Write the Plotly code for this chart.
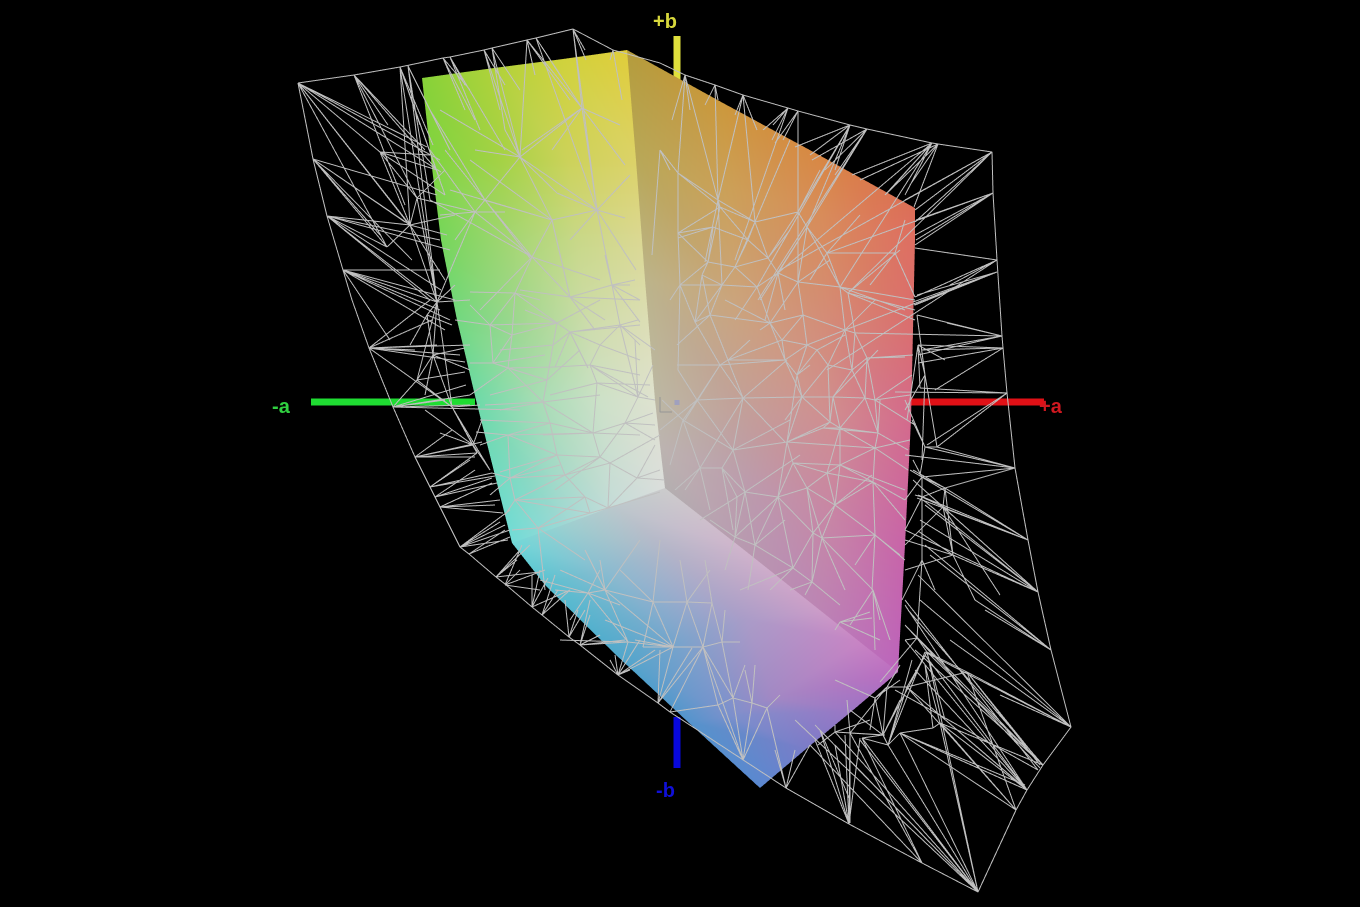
import numpy as np
import plotly.graph_objects as go

LEFT_X = [[422,494,563,627],[431,500,568,636],[441,508,576,645],[457,520,588,655],[476,535,600,660],[512,563,614,665]]
LEFT_Y = [[78,68,59,50],[160,160,160,160],[240,240,240,240],[320,320,320,320],[400,400,400,400],[543,525,506,488]]
LEFT_C = [["#86d238","#b0d23a","#d0d23c","#e0cd3a"],["#80d440","#a4d245","#ccd25a","#dcd268"],["#76d65c","#a2d672","#c8d888","#dcd894"],["#72d880","#a0d790","#cddcaa","#dedeb6"],["#6edaa8","#a5dcb4","#cde1c8","#e0e2d0"],["#72dcd8","#9ed8d4","#c6dcd8","#dcdedc"]]

RIGHT_X = [[627,723,819,915],[636,730,822,915],[645,735,826,913],[655,740,830,911],[660,746,830,905],[665,743,820,898]]
RIGHT_Y = [[50,103,155,208],[160,190,215,240],[280,300,315,330],[400,410,415,420],[445,480,510,545],[488,549,611,672]]
RIGHT_C = [["#b49c3c","#cc983c","#d88844","#dc6e58"],["#b8a858","#cca058","#d88c5a","#de6e62"],["#bcb48a","#cba47c","#d48c76","#da6e70"],["#bcb8a4","#c2a09a","#d08e90","#d46a8c"],["#bcb4b0","#bc9cac","#c886a4","#c864a8"],["#b4b0b0","#b89ab0","#bc84b4","#bc64bc"]]

BOTTOM_X = [[512,563,614,665],[545,606,672,743],[616,681,746,821],[688,731,773,860],[760,806,852,898]]
BOTTOM_Y = [[543,525,506,488],[585,570,553,549],[655,640,620,611],[722,716,698,642],[788,749,711,672]]
BOTTOM_C = [["#70d8d8","#9cd0d0","#bcc8cc","#cccccc"],["#58c0d0","#8cbcd0","#b4b4c8","#d0b4cc"],["#50a8cc","#7ca4cc","#aa9cc8","#cc9cc8"],["#5494cc","#7c90cc","#a288c4","#c884c4"],["#5a88d0","#7a7cc8","#9c76c4","#bc6cc0"]]

HULL_X = [298,354,400,443,450,484,492,527,536,573,613,660,685,715,743,788,798,850,867,932,938,992,993,997,1002,1003,1007,1015,1028,1038,1051,1071,1043,1027,1016,978,922,849,786,670,658,618,580,569,542,532,505,496,469,460,440,435,430,415,393,369,352,343,327,313,298]
HULL_Y = [83,75,67,58,57,50,48,40,38,29,50,63,75,85,95,108,111,125,129,143,144,152,193,260,336,348,393,468,540,592,650,727,765,790,810,892,863,824,788,712,703,675,645,637,615,607,584,577,554,547,507,497,487,457,407,348,300,270,216,159,83]

WIRE_FANS = [
 ((298,83),[(427,147),(440,160),(407,222),(410,225),(387,247),(441,172),(380,152)]),
 ((354,75),[(388,125),(425,150),(437,170),(405,205),(417,198)]),
 ((400,67),[(410,225),(437,302),(440,180),(445,195),(420,125),(433,145)]),
 ((408,66),[(437,302),(450,150),(430,200)]),
 ((443,58),[(475,120),(470,90),(465,110)]),
 ((450,57),[(505,150),(465,85),(480,130)]),
 ((484,50),[(520,157),(505,85),(500,110)]),
 ((492,48),[(520,157),(505,130),(520,90)]),
 ((527,40),[(520,157),(582,108),(570,100),(535,75)]),
 ((536,38),[(582,108),(597,210),(560,75)]),
 ((573,29),[(597,210),(582,108),(586,60),(585,50)]),
 ((613,50),[(622,100),(610,60)]),
 ((313,159),[(410,225),(405,222),(387,247),(380,235),(437,195),(412,260)]),
 ((327,216),[(437,302),(410,225),(387,247),(441,290),(450,250),(440,240),(430,300)]),
 ((343,270),[(437,302),(440,310),(440,270),(445,330),(450,320),(455,300),(390,340)]),
 ((369,348),[(430,300),(437,345),(465,362),(470,345),(432,320),(415,350),(460,355),(452,407)]),
 ((393,407),[(466,385),(445,400),(520,410),(470,395),(470,405)]),
 ((380,152),[(430,155),(437,170),(417,198),(410,225),(445,195)]),
 ((417,198),[(410,225),(437,302),(445,170),(475,212)]),
 ((410,225),[(387,247),(437,302),(455,215),(445,280),(447,235)]),
 ((437,302),[(427,315),(433,355),(417,380),(452,407),(470,300),(455,285)]),
 ((427,315),[(433,355),(410,345),(452,325)]),
 ((433,355),[(417,380),(470,370),(425,395),(452,407),(465,348)]),
 ((417,380),[(393,407),(465,372),(452,407)]),
 ((452,407),[(473,445),(477,453),(490,470),(480,405)]),
 ((415,457),[(473,445),(477,453),(482,442),(475,457),(452,430)]),
 ((473,445),[(425,410),(440,433),(490,470),(482,420)]),
 ((430,487),[(492,473),(495,476),(470,460),(477,453)]),
 ((435,497),[(492,478),(497,483),(475,470)]),
 ((440,507),[(500,500),(503,513),(495,505),(492,483)]),
 ((460,547),[(505,525),(510,530),(510,510),(508,540),(500,522)]),
 ((469,554),[(510,537),(505,530)]),
 ((496,577),[(520,550),(517,560),(530,545),(540,572)]),
 ((505,585),[(520,570),(545,570),(540,590),(522,545)]),
 ((532,607),[(548,578),(570,590),(540,570),(532,575)]),
 ((542,615),[(570,590),(558,590),(555,575)]),
 ((569,637),[(578,610),(585,610),(565,600)]),
 ((580,645),[(590,615),(625,640),(600,635),(590,600)]),
 ((618,675),[(615,655),(630,670),(610,660),(655,650),(673,647),(640,640)]),
 ((658,703),[(660,650),(692,648),(703,647),(673,647)]),
 ((670,712),[(718,705),(703,647)]),
 ((520,157),[(582,108),(485,200),(557,193),(597,210),(505,130),(475,150),(440,110)]),
 ((582,108),[(620,125),(625,165),(597,210),(552,150),(522,150)]),
 ((597,210),[(552,220),(625,218),(636,270),(612,285),(570,240),(630,175),(557,193)]),
 ((552,220),[(485,200),(532,257),(570,297),(520,157),(557,242),(470,160),(450,190)]),
 ((532,257),[(515,293),(485,200),(430,200),(600,280),(570,297),(475,212),(480,310)]),
 ((570,297),[(612,285),(557,242),(520,290),(595,330),(605,320),(640,300)]),
 ((612,285),[(640,300),(635,280),(630,285),(620,325),(640,322),(597,210),(605,255)]),
 ((515,293),[(490,325),(512,335),(470,292),(540,300),(532,257)]),
 ((475,212),[(440,215),(505,212),(485,200),(430,150),(437,302),(455,240)]),
 ((485,200),[(430,110),(445,150),(530,258)]),
 ((557,323),[(490,325),(512,335),(570,332),(525,310),(600,300),(515,293),(553,345)]),
 ((553,345),[(547,380),(570,332),(500,350)]),
 ((547,380),[(543,402),(490,395),(508,368),(580,350)]),
 ((543,402),[(550,423),(508,368),(485,405),(500,410),(593,433),(600,395)]),
 ((550,423),[(557,455),(508,435),(593,433),(480,420)]),
 ((557,455),[(565,475),(508,435),(600,457),(500,472)]),
 ((565,475),[(585,497),(510,478),(610,463),(600,457)]),
 ((585,497),[(590,513),(538,528),(515,500),(608,508)]),
 ((570,332),[(620,325),(588,368),(640,325),(555,367)]),
 ((620,325),[(640,345),(612,285),(638,397),(638,320),(600,345),(655,350)]),
 ((600,345),[(590,365),(570,332),(640,360)]),
 ((590,365),[(597,383),(555,367),(640,375),(638,397),(648,397)]),
 ((597,383),[(593,433),(638,397),(550,395),(650,385)]),
 ((593,433),[(600,457),(543,435),(508,435),(625,423),(640,435)]),
 ((600,457),[(610,463),(555,490),(625,423)]),
 ((610,463),[(637,478),(608,508),(660,435)]),
 ((493,363),[(512,335),(508,368),(470,363),(547,380),(545,355),(490,325)]),
 ((508,368),[(555,367),(470,395),(512,335)]),
 ((490,325),[(512,335),(455,320),(470,305)]),
 ((625,423),[(653,413),(655,440),(638,397),(655,425)]),
 ((638,397),[(655,400),(653,365),(635,340)]),
 ((508,435),[(476,432),(480,445),(510,478)]),
 ((510,478),[(490,495),(557,455),(515,500),(492,473),(560,465)]),
 ((515,500),[(538,528),(590,513),(505,515),(565,475)]),
 ((608,508),[(637,478),(660,492),(590,513)]),
 ((637,478),[(660,470),(665,480),(655,445),(610,463)]),
 ((538,528),[(512,530),(585,560),(545,590),(590,513)]),
 ((605,590),[(653,602),(588,593),(560,570),(600,560),(640,540),(673,647),(628,642),(585,550)]),
 ((653,602),[(687,602),(673,647),(643,647),(660,540),(620,570)]),
 ((687,602),[(712,603),(673,647),(703,647),(680,560),(710,570)]),
 ((712,603),[(722,642),(703,647),(705,560)]),
 ((673,647),[(703,647),(643,647),(628,642),(635,640),(605,620)]),
 ((703,647),[(722,642),(733,698),(743,760),(718,705)]),
 ((722,642),[(740,642),(733,698),(725,610)]),
 ((733,698),[(718,705),(752,703),(743,760),(745,665)]),
 ((718,705),[(743,760)]),
 ((752,703),[(767,708),(743,760),(745,670),(755,665)]),
 ((767,708),[(743,760),(786,788),(780,695)]),
 ((628,642),[(588,593),(618,675),(580,645),(560,640)]),
 ((588,593),[(540,580),(570,620),(555,590),(620,605),(600,570)]),
 ((786,788),[(795,750),(810,745),(775,750)]),
 ((685,75),[(678,173),(718,200),(672,120),(690,110)]),
 ((715,85),[(718,200),(705,105),(718,100)]),
 ((743,95),[(735,115),(757,130),(718,200),(755,222)]),
 ((788,108),[(763,130),(772,140),(773,125),(735,260)]),
 ((798,111),[(798,212),(775,143),(783,140)]),
 ((850,125),[(795,147),(810,155),(835,170),(798,212),(807,227),(757,287)]),
 ((867,129),[(812,160),(835,175),(825,170),(807,227),(758,300)]),
 ((932,143),[(852,175),(885,195),(890,190),(905,195),(778,273),(840,287)]),
 ((938,144),[(910,185),(914,207),(885,195),(860,180)]),
 ((992,152),[(915,210),(905,200),(915,222),(780,270),(848,293)]),
 ((993,193),[(916,220),(915,245),(916,240),(915,235),(827,253)]),
 ((997,260),[(915,248),(915,297),(950,285),(827,370)]),
 ((997,272),[(915,305),(914,305),(913,302),(917,295),(845,330)]),
 ((1002,336),[(922,350),(918,355),(917,315),(947,323),(855,333)]),
 ((1003,348),[(918,363),(922,350),(918,345),(935,390)]),
 ((1007,393),[(920,388),(937,447),(927,445),(895,392)]),
 ((1015,468),[(925,447),(937,447),(905,455),(945,488),(922,477)]),
 ((1028,540),[(917,498),(945,488),(950,510),(918,495),(910,470)]),
 ((1038,592),[(913,480),(923,500),(943,507),(953,555),(925,505),(905,530),(920,520)]),
 ((678,173),[(718,200),(678,233),(720,207),(660,150)]),
 ((718,200),[(722,285),(755,222),(720,207),(705,262)]),
 ((720,207),[(755,222),(708,262),(748,240),(678,233)]),
 ((755,222),[(798,212),(768,258),(748,240),(735,267),(790,140)]),
 ((798,212),[(807,227),(768,258),(820,170),(798,282)]),
 ((807,227),[(778,273),(827,253),(840,287),(798,282),(760,300)]),
 ((748,240),[(713,227),(735,267),(768,258)]),
 ((768,258),[(778,273),(735,267),(790,230)]),
 ((735,267),[(708,262),(757,287),(722,285),(748,240)]),
 ((708,262),[(713,227),(678,233),(702,275),(680,285)]),
 ((713,227),[(678,233),(678,238)]),
 ((778,273),[(757,287),(798,282),(785,310),(765,320)]),
 ((757,287),[(722,285),(770,323),(745,305),(735,320)]),
 ((798,282),[(840,287),(803,315),(770,323),(830,260)]),
 ((840,287),[(848,293),(827,253),(845,330),(915,300),(905,310)]),
 ((848,293),[(855,333),(915,320),(900,250),(915,310)]),
 ((827,253),[(895,253),(810,280),(860,215)]),
 ((895,253),[(915,297),(870,285),(905,220)]),
 ((722,285),[(680,285),(702,275),(695,322),(710,315)]),
 ((680,285),[(678,233),(695,322),(670,300),(678,370)]),
 ((702,275),[(710,315),(695,322)]),
 ((803,315),[(770,323),(807,345),(845,330),(782,340)]),
 ((770,323),[(782,340),(725,300),(710,315),(785,360),(760,330)]),
 ((782,340),[(807,345),(785,360),(728,360)]),
 ((807,345),[(817,350),(845,330),(797,375),(785,360)]),
 ((845,330),[(855,333),(852,370),(828,365),(875,300)]),
 ((855,333),[(867,358),(852,370)]),
 ((817,350),[(828,365),(797,375),(845,335)]),
 ((867,358),[(852,370),(875,400),(865,398),(913,355),(905,357)]),
 ((828,365),[(852,370),(830,422),(802,397)]),
 ((852,370),[(865,398),(833,397)]),
 ((785,360),[(728,360),(797,375),(720,365),(802,397)]),
 ((728,360),[(720,365),(710,315),(743,398),(750,340)]),
 ((720,365),[(695,322),(697,400),(677,365),(743,398),(685,420)]),
 ((710,315),[(695,322),(677,345)]),
 ((743,398),[(697,400),(802,397),(733,450),(785,442),(787,360),(700,468)]),
 ((797,375),[(802,397),(787,442),(810,365)]),
 ((802,397),[(833,397),(830,422),(787,442),(785,420)]),
 ((833,397),[(865,398),(830,422),(840,428),(878,350)]),
 ((865,398),[(875,400),(840,428),(878,433)]),
 ((875,400),[(910,395),(878,433),(912,375),(915,425)]),
 ((830,422),[(823,428),(840,428),(787,442)]),
 ((823,428),[(787,442),(840,428),(878,433)]),
 ((840,428),[(878,433),(875,448),(840,465),(827,473)]),
 ((878,433),[(875,448),(908,450),(880,400)]),
 ((875,448),[(840,465),(873,482),(910,440),(908,470)]),
 ((787,442),[(733,450),(793,463),(778,497),(875,448)]),
 ((733,450),[(697,400),(722,468),(683,420),(745,492),(790,420)]),
 ((697,400),[(683,420),(678,370),(660,430)]),
 ((683,420),[(700,468),(662,400),(670,465)]),
 ((722,468),[(700,468),(737,497),(745,492),(733,530)]),
 ((700,468),[(685,490),(710,510),(675,490)]),
 ((793,463),[(840,465),(827,473),(778,497),(807,488)]),
 ((827,473),[(840,465),(807,488),(835,505),(873,482)]),
 ((840,465),[(873,482),(905,490),(835,505)]),
 ((873,482),[(905,500),(875,535),(835,505),(905,520)]),
 ((807,488),[(778,497),(835,505),(813,533),(822,538)]),
 ((778,497),[(745,492),(735,537),(755,545),(813,533),(793,568)]),
 ((745,492),[(737,497),(735,537),(755,545),(800,455)]),
 ((737,497),[(735,537),(700,520)]),
 ((735,537),[(755,545),(725,570),(710,520)]),
 ((755,545),[(793,568),(748,590),(785,520)]),
 ((835,505),[(822,538),(875,535),(813,533),(872,475)]),
 ((813,533),[(822,538),(793,568),(812,582)]),
 ((822,538),[(812,582),(873,590),(845,590)]),
 ((875,535),[(872,590),(905,560),(900,555),(822,538),(855,565)]),
 ((793,568),[(812,582),(770,590),(740,590)]),
 ((812,582),[(790,590),(840,605),(805,595)]),
 ((873,590),[(880,620),(850,625),(890,640),(875,650)]),
 ((840,622),[(870,612),(880,640),(835,630),(872,618)]),
 ((918,345),[(925,375),(920,388),(907,420),(945,360)]),
 ((925,375),[(922,460),(937,447),(905,410),(917,315)]),
 ((925,447),[(937,447),(905,400),(912,420),(920,475)]),
 ((922,477),[(922,560),(945,488),(905,500),(913,460)]),
 ((922,497),[(945,488),(950,510),(915,495),(905,530)]),
 ((945,488),[(943,507),(953,555),(913,470)]),
 ((943,507),[(953,555),(905,545),(1000,595)]),
 ((953,555),[(905,540),(918,531),(975,600),(905,570)]),
 ((922,560),[(917,638),(902,600),(935,590)]),
 ((917,638),[(927,652),(905,640),(905,625),(1040,768),(880,682)]),
 ((927,652),[(945,720),(967,672),(907,687),(883,735),(1043,765)]),
 ((967,672),[(907,687),(1071,727),(1040,765),(1016,810),(1030,750)]),
 ((907,687),[(887,687),(888,745),(1016,810),(1027,790),(1025,788)]),
 ((887,687),[(875,698),(883,735),(850,733),(900,665)]),
 ((875,698),[(883,735),(870,730),(900,680),(835,680)]),
 ((883,735),[(888,745),(850,733),(835,732),(862,738),(850,710),(900,700)]),
 ((888,745),[(900,733),(862,738),(912,660),(925,652)]),
 ((900,733),[(933,728),(1016,810),(1027,790),(1025,785)]),
 ((933,728),[(940,723),(925,665)]),
 ((940,723),[(1043,765),(1027,790),(1016,810),(925,665),(978,892)]),
 ((1071,727),[(925,652),(950,640),(920,600),(967,672),(918,575),(1000,695)]),
 ((1051,650),[(985,610),(975,600),(930,555),(925,545)]),
 ((1027,790),[(915,670),(905,605),(905,640),(925,655)]),
 ((1043,765),[(905,625),(908,610),(915,650)]),
 ((1038,770),[(905,600),(895,690)]),
 ((978,892),[(862,738),(835,732),(900,733),(927,652),(888,745),(835,745),(795,720),(815,725),(860,740)]),
 ((922,863),[(850,733),(862,738),(810,745)]),
 ((849,824),[(835,745),(820,730),(850,733),(860,738),(815,740),(845,735)]),
 ((835,732),[(885,735),(835,725),(870,720),(818,745)]),
 ((850,733),[(850,823),(847,700)]),
 ((850,800),[(820,730)]),
 ((660,150),[(652,255),(670,170)]),
]

AXIS_NAMES = ["-a", "+a", "+b", "-b"]
AXIS_COLORS = ["#1fdc32", "#e01016", "#e0e03c", "#0808dc"]
AXIS_X = [[311, 475], [908, 1044], [677, 677], [677, 677]]
AXIS_Y = [[402, 402], [402, 402], [36, 82], [717, 768]]
LABEL_X = [281, 1051, 665, 665]
LABEL_Y = [406, 406, 21, 790]
LABEL_COLORS = ["#30d040", "#d01820", "#d8d83c", "#1010d8"]
AXIS_L_X = [660, 660, 672]
AXIS_L_Y = [397, 412, 412]
AXIS_DOT_X = [677, 677]
AXIS_DOT_Y = [400, 405]

def face(xs, ys, cs):
    xs, ys = np.array(xs), np.array(ys)
    r, c = xs.shape
    I, J, K = [], [], []
    for a in range(r - 1):
        for b in range(c - 1):
            p = a * c + b
            I += [p, p]
            J += [p + 1, p + c + 1]
            K += [p + c + 1, p + c]
    flat = [v for row in cs for v in row]
    return go.Mesh3d(x=xs.ravel(), y=-ys.ravel(), z=np.zeros(r * c), i=I, j=J, k=K,
                     vertexcolor=flat, flatshading=False, hoverinfo="skip",
                     lighting=dict(ambient=1, diffuse=0, specular=0, fresnel=0, roughness=1))

fig = go.Figure()
for n, xx, yy, col in zip(AXIS_NAMES, AXIS_X, AXIS_Y, AXIS_COLORS):
    fig.add_trace(go.Scatter3d(x=xx, y=[-v for v in yy], z=[-0.5, -0.5], mode="lines",
                               line=dict(color=col, width=14), hoverinfo="skip", name=n))
for xs, ys, cs in [(LEFT_X, LEFT_Y, LEFT_C), (RIGHT_X, RIGHT_Y, RIGHT_C), (BOTTOM_X, BOTTOM_Y, BOTTOM_C)]:
    fig.add_trace(face(xs, ys, cs))

wx, wy = list(HULL_X) + [None], [-v for v in HULL_Y] + [None]
for hub, pts in WIRE_FANS:
    for p in pts:
        wx += [hub[0], p[0], None]
        wy += [-hub[1], -p[1], None]
fig.add_trace(go.Scatter3d(x=wx, y=wy, z=[0.5] * len(wx), mode="lines", connectgaps=False,
                           line=dict(color="rgb(192,192,192)", width=2), hoverinfo="skip"))
fig.add_trace(go.Scatter3d(x=AXIS_L_X, y=[-v for v in AXIS_L_Y], z=[0.5] * 3, mode="lines",
                           line=dict(color="rgb(150,150,150)", width=2), hoverinfo="skip"))
fig.add_trace(go.Scatter3d(x=AXIS_DOT_X, y=[-v for v in AXIS_DOT_Y], z=[0.5] * 2, mode="lines",
                           line=dict(color="rgb(160,160,190)", width=10), hoverinfo="skip"))

hidden = dict(visible=False, showgrid=False, zeroline=False, showticklabels=False, showspikes=False, title="")
notes = [dict(text=t, x=x, y=-y, z=0.5, showarrow=False,
              font=dict(family="Liberation Sans", size=20, color=c, weight="bold"))
         for t, x, y, c in zip(AXIS_NAMES, LABEL_X, LABEL_Y, LABEL_COLORS)]
fig.update_layout(
    width=1360, height=907, margin=dict(l=0, r=0, t=0, b=0), paper_bgcolor="black", showlegend=False,
    scene=dict(
        domain=dict(x=[0, 1], y=[0, 1]), bgcolor="black", annotations=notes,
        xaxis=dict(range=[0, 1360], **hidden), yaxis=dict(range=[-907, 0], **hidden),
        zaxis=dict(range=[-1, 1], **hidden),
        aspectmode="manual", aspectratio=dict(x=2 * 1360 / 907, y=2, z=0.02),
        camera=dict(eye=dict(x=0, y=0, z=1), up=dict(x=0, y=1, z=0), center=dict(x=0, y=0, z=0),
                    projection=dict(type="orthographic")),
    ),
)
fig.write_html("out.html", config=dict(displayModeBar=False),
               post_script="document.documentElement.style.background='black';document.body.style.background='black';document.body.style.margin='0';document.body.style.overflow='hidden';window.dispatchEvent(new Event('resize'));")
